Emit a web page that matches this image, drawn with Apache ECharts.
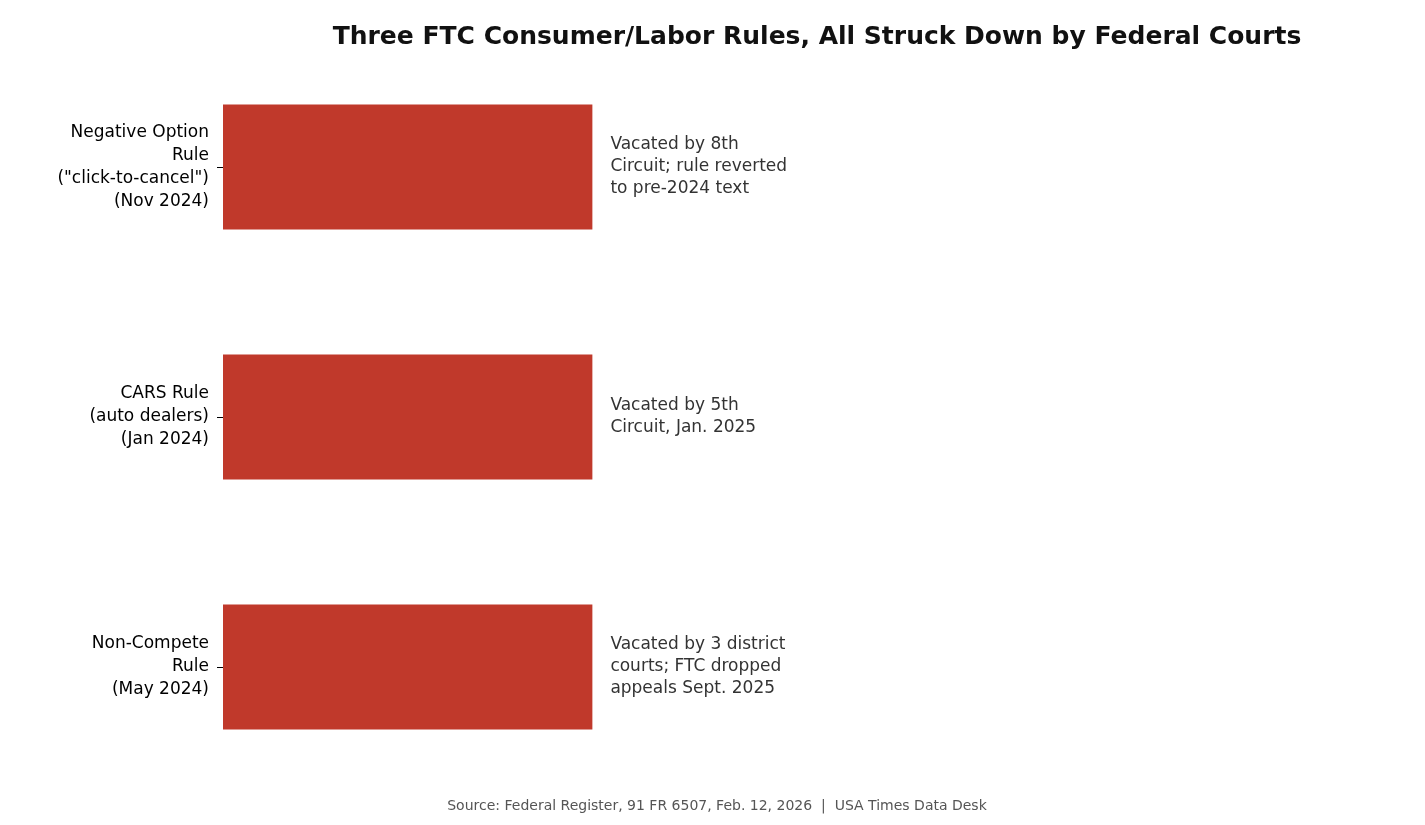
<!DOCTYPE html>
<html><head><meta charset="utf-8">
<script src="https://cdn.jsdelivr.net/npm/echarts@6/dist/echarts.min.js"></script>
<style>html,body{margin:0;padding:0;background:#fff}#c{width:1425px;height:825px}</style>
</head><body><div id="c"></div>
<script>
const categories = ['Non-Compete\nRule\n(May 2024)', 'CARS Rule\n(auto dealers)\n(Jan 2024)', 'Negative Option\nRule\n("click-to-cancel")\n(Nov 2024)'];
const values = [1, 1, 1];
const notes = ['Vacated by 3 district\ncourts; FTC dropped\nappeals Sept. 2025', 'Vacated by 5th\nCircuit, Jan. 2025', 'Vacated by 8th\nCircuit; rule reverted\nto pre-2024 text'];
const chart = echarts.init(document.getElementById('c'));
const F = 'DejaVu Sans';
chart.setOption({
  animation: false,
  title: [
    {text: 'Three FTC Consumer/Labor Rules, All Struck Down by Federal Courts', left: 812, top: 20, textAlign: 'center',
     textStyle: {fontFamily: F, fontSize: 25, fontWeight: 'bold', color: '#111'}},
    {text: 'Source: Federal Register, 91 FR 6507, Feb. 12, 2026  |  USA Times Data Desk', left: 712, top: 794, textAlign: 'center',
     textStyle: {fontFamily: F, fontSize: 14, fontWeight: 'normal', color: '#555'}}
  ],
  grid: {left: 223, right: 20, top: 42, bottom: 33},
  xAxis: {type: 'value', min: 0, max: 3.2, show: false},
  yAxis: {type: 'category', data: categories,
    axisLine: {show: false}, axisTick: {show: true, alignWithLabel: true, length: 6, lineStyle: {color: '#000'}},
    axisLabel: {fontFamily: F, fontSize: 17, color: '#000', lineHeight: 23, margin: 14, align: 'right'}},
  series: [{type: 'bar', data: values.map((v, i) => ({value: v, label: {formatter: notes[i]}})),
    barWidth: 125, itemStyle: {color: '#c0392b'},
    label: {show: true, position: 'right', distance: 18, fontFamily: F, fontSize: 17, color: '#333', lineHeight: 22, align: 'left'}}]
});
</script></body></html>
